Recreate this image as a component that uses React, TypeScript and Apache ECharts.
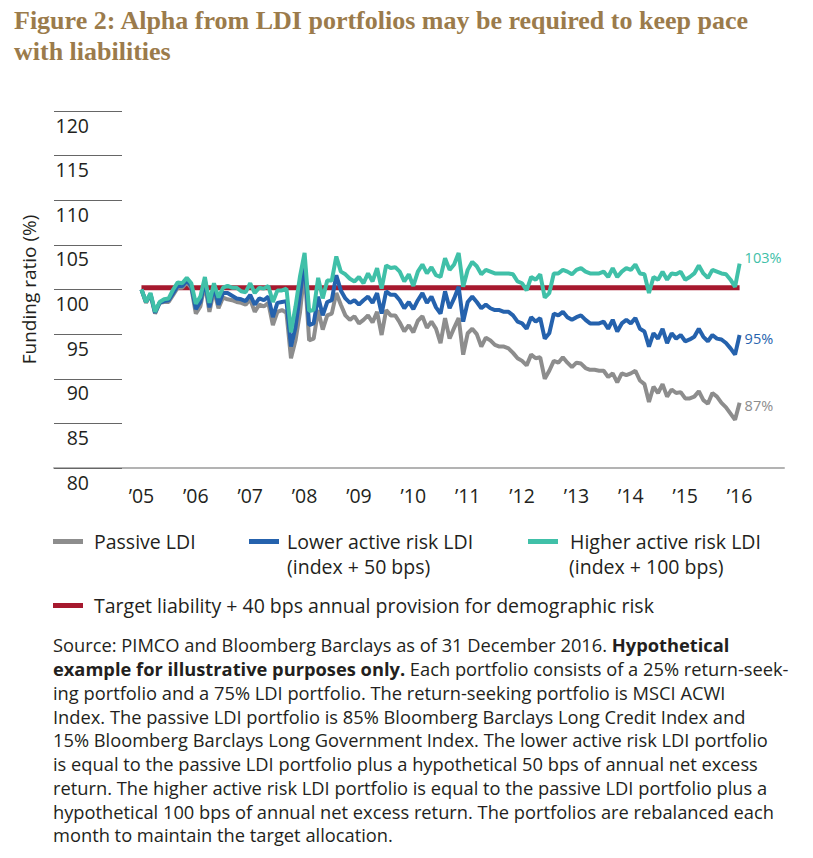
import React, { useEffect, useRef } from "react";
import * as echarts from "echarts";

// Month index 0 = start of 2005, 132 = start of 2016
const yearTicks = [0, 12, 24, 36, 48, 60, 72, 84, 96, 108, 120, 132];
const yearLabels = ["’05", "’06", "’07", "’08", "’09", "’10", "’11", "’12", "’13", "’14", "’15", "’16"];

const passive = [
  100.0, 98.5, 99.4, 97.3, 98.5, 98.6, 98.6, 99.4, 100.2, 100.2, 100.8, 100.2,
  97.3, 98.1, 100.6, 97.5, 99.9, 97.9, 99.1, 98.9, 98.8, 98.6, 98.5, 98.3,
  98.9, 97.5, 98.3, 98.1, 98.5, 96.0, 97.5, 97.7, 97.4, 92.3, 94.3, 97.5,
  102.2, 94.3, 94.5, 97.7, 95.5, 97.1, 97.3, 99.6, 98.3, 97.1, 96.6, 97.0,
  96.2, 96.6, 97.1, 96.3, 97.5, 94.9, 97.7, 97.1, 97.1, 96.3, 95.3, 96.0,
  95.2, 96.5, 97.0, 95.7, 96.4, 95.6, 94.0, 96.8, 94.5, 95.7, 96.8, 92.7,
  95.1, 95.6, 95.0, 93.6, 94.6, 94.3, 93.8, 93.6, 93.6, 93.4, 92.9, 92.3,
  92.0, 91.5, 92.7, 92.3, 92.4, 90.0, 90.9, 92.0, 91.8, 92.4, 91.8, 91.3,
  91.8, 91.7, 91.2, 91.0, 91.0, 90.9, 90.9, 90.2, 90.6, 89.6, 90.6, 90.4,
  90.6, 90.9, 89.8, 89.4, 87.4, 89.1, 88.4, 89.4, 88.0, 88.8, 88.4, 88.5,
  87.8, 87.8, 88.0, 88.6, 87.6, 87.2, 88.4, 88.0, 87.3, 86.8, 86.1, 85.4,
  87.3,
];

const lowerActive = [
  100.0, 98.6, 99.5, 97.4, 98.5, 98.7, 98.8, 99.6, 100.4, 100.4, 101.0, 100.4,
  97.8, 98.6, 101.0, 98.0, 100.3, 98.3, 99.6, 99.6, 99.3, 99.0, 98.9, 98.7,
  99.4, 98.3, 99.0, 98.8, 99.2, 96.9, 98.5, 98.6, 98.7, 93.6, 95.8, 99.5,
  103.1, 96.0, 96.2, 99.2, 97.1, 98.6, 98.8, 101.6, 99.9, 99.0, 98.5, 98.8,
  98.3, 98.8, 99.2, 98.5, 99.6, 97.3, 99.8, 99.4, 99.4, 98.8, 97.9, 98.6,
  97.8, 98.8, 99.6, 98.5, 99.2, 98.0, 97.3, 99.8, 97.9, 99.0, 100.3, 96.4,
  98.6, 99.2, 98.6, 97.9, 98.3, 97.9, 97.7, 97.7, 97.5, 97.5, 97.1, 96.4,
  96.2, 95.6, 96.9, 96.4, 96.8, 94.5, 95.1, 97.3, 97.1, 97.5, 96.9, 96.6,
  96.9, 97.1, 96.6, 96.2, 96.2, 96.2, 96.4, 95.6, 96.6, 95.3, 96.2, 96.6,
  96.2, 96.8, 95.6, 95.3, 93.6, 95.1, 94.5, 95.6, 94.0, 95.1, 94.5, 94.9,
  94.2, 94.4, 94.7, 95.6, 94.7, 94.2, 94.9, 94.5, 94.4, 94.0, 93.4, 92.7,
  94.9,
];

const higherActive = [
  100.0, 98.6, 99.6, 97.5, 98.6, 98.9, 99.0, 100.0, 100.8, 100.7, 101.3, 100.7,
  98.4, 99.2, 101.4, 98.5, 100.7, 99.1, 100.2, 100.4, 100.2, 100.2, 99.8, 99.7,
  100.7, 99.6, 100.2, 100.1, 100.4, 98.6, 99.9, 99.9, 100.1, 95.2, 98.1, 101.5,
  104.1, 97.6, 97.7, 101.3, 99.0, 101.0, 101.0, 103.7, 102.0, 101.7, 101.2, 100.9,
  101.4, 100.7, 101.8, 100.9, 102.4, 100.1, 102.7, 102.4, 102.5, 102.0, 100.9, 101.7,
  100.4, 102.0, 102.8, 101.8, 102.5, 101.6, 101.4, 103.5, 102.2, 102.8, 104.1, 100.3,
  102.2, 103.1, 102.6, 101.7, 102.2, 102.0, 101.8, 101.8, 101.8, 101.8, 101.7, 100.9,
  100.7, 99.9, 101.4, 101.1, 101.7, 99.1, 99.6, 101.8, 101.8, 102.2, 102.0, 101.7,
  102.2, 102.4, 102.0, 101.8, 101.8, 101.8, 102.0, 101.4, 102.4, 101.4, 102.0, 102.4,
  102.2, 102.8, 101.8, 101.7, 99.6, 101.4, 101.1, 102.0, 101.1, 101.8, 101.7, 102.0,
  101.1, 101.4, 101.8, 102.7, 101.8, 101.3, 102.2, 102.0, 101.8, 101.7, 101.1, 100.3,
  102.9,
];

const targetMonths = [0, 132];
const targetValues = [100.2, 100.2];

const seriesNames = [
  "Passive LDI",
  "Lower active risk LDI",
  "Higher active risk LDI",
  "Target liability + 40 bps annual provision for demographic risk",
];
const legendSubLines = ["(index + 50 bps)", "(index + 100 bps)"];
const endLabels = ["87%", "95%", "103%"];

const GRAY = "#8D8D8D";
const BLUE = "#2562AD";
const TEAL = "#40C0A8";
const RED = "#A6192E";
const INK = "#231F20";
const SANS = "'Open Sans', 'Noto Sans', sans-serif";

const toPairs = (vals: number[]) => vals.map((v, i) => [i, v]);

const sourceText =
  "Source: PIMCO and Bloomberg Barclays as of 31 December 2016. {b|Hypothetical}\n" +
  "{b|example for illustrative purposes only.} Each portfolio consists of a 25% return-seek-\n" +
  "ing portfolio and a 75% LDI portfolio. The return-seeking portfolio is MSCI ACWI\n" +
  "Index. The passive LDI portfolio is 85% Bloomberg Barclays Long Credit Index and\n" +
  "15% Bloomberg Barclays Long Government Index. The lower active risk LDI portfolio\n" +
  "is equal to the passive LDI portfolio plus a hypothetical 50 bps of annual net excess\n" +
  "return. The higher active risk LDI portfolio is equal to the passive LDI portfolio plus a\n" +
  "hypothetical 100 bps of annual net excess return. The portfolios are rebalanced each\n" +
  "month to maintain the target allocation.";

function legendItem(name: string, left: number, top: number, padLeft: number) {
  return {
    data: [name],
    left,
    top,
    padding: 0,
    icon: "rect",
    itemWidth: 30,
    itemHeight: 5,
    selectedMode: false,
    textStyle: {
      fontFamily: SANS,
      fontSize: 19.5,
      lineHeight: 19,
      color: INK,
      padding: [0, 0, 0, padLeft],
    },
  };
}

export default function App() {
  const ref = useRef<HTMLDivElement>(null);

  useEffect(() => {
    if (!ref.current) return;
    const chart = echarts.init(ref.current, null, { renderer: "svg" });

    const lineSeries = (name: string, vals: number[], color: string, label: string, offsetY: number) => ({
      name,
      type: "line",
      data: toPairs(vals),
      showSymbol: false,
      symbol: "none",
      color,
      itemStyle: { color },
      lineStyle: { color, width: 4 },
      endLabel: {
        show: true,
        formatter: label,
        color,
        fontFamily: SANS,
        fontSize: 14.5,
        distance: 5,
        offset: [0, offsetY],
      },
    });

    const option: any = {
      animation: false,
      backgroundColor: "#ffffff",
      title: {
        text: "Figure 2: Alpha from LDI portfolios may be required to keep pace\nwith liabilities",
        left: 14,
        top: 5,
        padding: 0,
        textStyle: {
          fontFamily: "'Liberation Serif', 'DejaVu Serif', serif",
          fontWeight: "bold",
          fontSize: 26,
          lineHeight: 31,
          color: "#9B7B4B",
        },
      },
      grid: { left: 54, right: 29, top: 111, bottom: 390, outerBoundsMode: "none" },
      legend: [
        legendItem(seriesNames[0], 53, 531.5, 6),
        legendItem(seriesNames[1], 249, 531.5, 3),
        legendItem(seriesNames[2], 528, 531.5, 7),
        legendItem(seriesNames[3], 53, 595.5, 6),
      ],
      xAxis: {
        type: "value",
        min: -19.3,
        max: 141.8,
        splitLine: { show: false },
        axisTick: { show: false },
        axisLine: { show: true, onZero: false, lineStyle: { color: "#B3B3B3", width: 2 } },
        axisLabel: {
          customValues: yearTicks,
          formatter: (v: number) => yearLabels[Math.round(v / 12)],
          fontFamily: SANS,
          fontSize: 19.5,
          color: INK,
          margin: 17,
        },
      },
      yAxis: {
        type: "value",
        min: 80,
        max: 120,
        interval: 5,
        name: "Funding ratio (%)",
        nameLocation: "middle",
        nameGap: 16,
        nameTextStyle: { fontFamily: SANS, fontSize: 19, color: INK },
        splitLine: { show: false },
        axisLine: { show: false, onZero: false },
        axisTick: { show: true, inside: true, length: 68, lineStyle: { color: "#666666", width: 1 } },
        axisLabel: {
          inside: true,
          margin: 35,
          align: "right",
          verticalAlign: "top",
          padding: [4, 0, 0, 0],
          fontFamily: SANS,
          fontSize: 19.5,
          color: INK,
        },
      },
      series: [
        {
          name: seriesNames[3],
          type: "line",
          data: targetMonths.map((m, i) => [m, targetValues[i]]),
          showSymbol: false,
          symbol: "none",
          color: RED,
          itemStyle: { color: RED },
          lineStyle: { color: RED, width: 5 },
        },
        lineSeries(seriesNames[0], passive, GRAY, endLabels[0], 3),
        lineSeries(seriesNames[1], lowerActive, BLUE, endLabels[1], 3),
        lineSeries(seriesNames[2], higherActive, TEAL, endLabels[2], -6),
      ],
      graphic: [
        {
          type: "text",
          x: 287,
          y: 566,
          style: { text: legendSubLines[0], fontFamily: SANS, fontSize: 19.5, fill: INK, verticalAlign: "middle" },
        },
        {
          type: "text",
          x: 569,
          y: 566,
          style: { text: legendSubLines[1], fontFamily: SANS, fontSize: 19.5, fill: INK, verticalAlign: "middle" },
        },
        {
          type: "text",
          x: 53,
          y: 633,
          style: {
            text: sourceText,
            fontFamily: SANS,
            fontSize: 18.3,
            lineHeight: 23.75,
            fill: INK,
            rich: {
              b: { fontFamily: SANS, fontSize: 18.3, lineHeight: 23.75, fontWeight: "bold", fill: INK },
            },
          },
        },
      ],
    };

    chart.setOption(option);
    return () => chart.dispose();
  }, []);

  return (
    <div
      ref={ref}
      style={{ position: "fixed", left: 0, top: 0, width: 813, height: 858, background: "#ffffff" }}
    />
  );
}
